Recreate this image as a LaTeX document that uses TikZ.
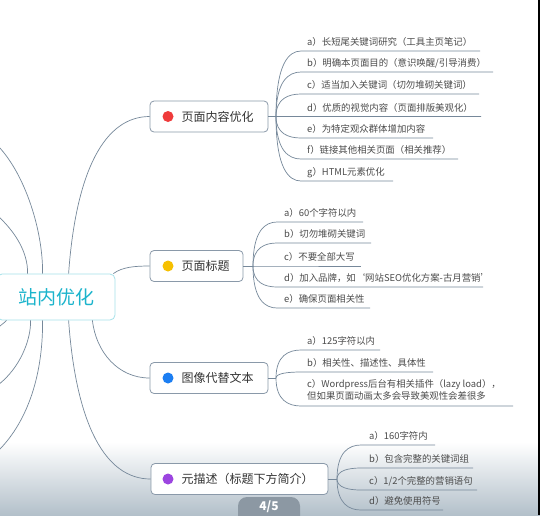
\documentclass[tikz,border=0pt]{standalone}
\usepackage{fontspec}
\setmainfont{Noto Sans CJK SC}
\usetikzlibrary{calc}
\definecolor{lnc}{HTML}{76889A}
\definecolor{boxc}{HTML}{8A99A9}
\definecolor{txt}{HTML}{333333}
\definecolor{ctxt}{HTML}{4C4C4C}
\definecolor{cyanT}{HTML}{1CB4CC}
\definecolor{cyanB}{HTML}{A6E2EA}
\definecolor{bgc}{HTML}{B3C0CA}
\definecolor{pillc}{HTML}{8C98A3}
\definecolor{dred}{HTML}{EF3B3B}
\definecolor{dyel}{HTML}{F6C000}
\definecolor{dblu}{HTML}{1C7EF2}
\definecolor{dpur}{HTML}{9C45E0}
\newcommand\kidline[3]{%
  \draw[conn] (#1) .. controls ($(#1)!0.8!(#1|-#2)$) and ($(#1|-#2)!0.5!(#2)$) .. (#2) -- (#3);}
\begin{document}
\begin{tikzpicture}[x=1pt,y=-1pt,
  conn/.style={draw=lnc, line width=0.7pt},
  l1/.style={draw=boxc, line width=0.8pt, fill=white, rounded corners=4pt, minimum height=31pt, inner sep=0pt},
  dot/.style={circle, inner sep=0pt, minimum size=11pt},
  l1text/.style={anchor=west, text=txt, font=\fontsize{12}{14}\selectfont, inner sep=0pt},
  ch/.style={anchor=base west, text=ctxt, font=\fontsize{9.4}{12}\selectfont, inner sep=0pt},
]
\useasboundingbox (0,0) rectangle (540,515);
\clip (0,0) rectangle (540,515);
\fill[white] (0,0) rectangle (540,515);
\shade[top color=white, bottom color=bgc] (0,442) rectangle (540,515);
\fill[black] (538.3,0) rectangle (541,515);

% central node
\node[draw=cyanB, line width=0.8pt, fill=white, rounded corners=5pt, minimum width=118pt, minimum height=46pt, inner sep=0pt, text=cyanT, font=\fontsize{19}{22}\selectfont] (c0) at (56,297) {站内优化};

% level-1 nodes
\node[l1, minimum width=118pt] (n1) at (209,116.5) {};
\node[l1, minimum width=93pt] (n2) at (196.5,266) {};
\node[l1, minimum width=118pt] (n3) at (209,378) {};
\node[l1, minimum width=177pt] (n4) at (239.5,479) {};
\node[dot, fill=dred] (d1) at (168,116.5) {};
\node[dot, fill=dyel] (d2) at (168,266) {};
\node[dot, fill=dblu] (d3) at (168,378) {};
\node[dot, fill=dpur] (d4) at (168,479) {};
\node[l1text] (t1) at (181.5,116.5) {页面内容优化};
\node[l1text] (t2) at (181.5,266) {页面标题};
\node[l1text] (t3) at (181.5,378) {图像代替文本};
\node[l1text] (t4) at (181.5,479) {元描述（标题下方简介）};

% connectors from the centre
\draw[conn] ($(c0.north west)+(72,0)$) .. controls (76,170) and (105,116.5) .. (n1.west);
\draw[conn] ($(c0.north east)+(-2,0)$) .. controls (122,267) and (135,266) .. (n2.west);
\draw[conn] ($(c0.south east)+(-23,0)$) .. controls (96,352) and (118,378) .. (n3.west);
\draw[conn] ($(c0.south west)+(72,0)$) .. controls (76,424) and (105,479) .. (n4.west);

% branches leaving the frame on the left
\coordinate (L1) at (-1,147);
\coordinate (L2) at (-1,217);
\coordinate (B1) at (-2,385);
\coordinate (B2) at (-3,452);
\coordinate (B3) at (-5,330);
\draw[conn] (L1) .. controls (25,175) and (43,230) .. ($(c0.north west)+(46,0)$);
\draw[conn] (L2) .. controls (15,232) and (28,252) .. ($(c0.north west)+(31,0)$);
\draw[conn] ($(c0.south west)+(34,0)$) .. controls (31,340) and (20,368) .. (B1);
\draw[conn] ($(c0.south west)+(46,0)$) .. controls (43,380) and (25,425) .. (B2);
\draw[conn] ($(c0.south west)+(10,0)$) .. controls (5,322) .. (B3);

% branch points
\coordinate (b1) at (276,116.5);
\coordinate (b2) at (253,266);
\coordinate (b3) at (276,378);
\coordinate (b4) at (337,479);
\draw[conn] (n1.east) -- (b1);
\draw[conn] (n2.east) -- (b2);
\draw[conn] (n3.east) -- (b3);
\draw[conn] (n4.east) -- (b4);

% group 1
\foreach \n/\y/\e/\t in {
  a/51/480/{a）长短尾关键词研究（工具主页笔记）},
  b/72/493/{b）明确本页面目的（意识唤醒/引导消费）},
  c/94/479/{c）适当加入关键词（切勿堆砌关键词）},
  d/116.5/481/{d）优质的视觉内容（页面排版美观化）},
  e/138/433/{e）为特定观众群体增加内容},
  f/159/458/{f）链接其他相关页面（相关推荐）},
  g/181/393/{g）HTML元素优化}} {
  \coordinate (p1\n) at (301,\y);
  \coordinate (q1\n) at (\e,\y);
  \node[ch] (k1\n) at (307,{\y-5.5}) {\t};
  \kidline{b1}{p1\n}{q1\n}
}

% group 2
\foreach \n/\y/\e/\t in {
  a/222/363/{a）60个字符以内},
  b/243/371/{b）切勿堆砌关键词},
  c/266/361/{c）不要全部大写},
  d/287/483/{d）加入品牌，如‘网站SEO优化方案-古月营销’},
  e/308/370/{e）确保页面相关性}} {
  \coordinate (p2\n) at (277,\y);
  \coordinate (q2\n) at (\e,\y);
  \node[ch] (k2\n) at (284,{\y-5.5}) {\t};
  \kidline{b2}{p2\n}{q2\n}
}

% group 3
\foreach \n/\y/\e/\t in {
  a/350/380/{a）125字符以内},
  b/372/433/{b）相关性、描述性、具体性}} {
  \coordinate (p3\n) at (301,\y);
  \coordinate (q3\n) at (\e,\y);
  \node[ch] (k3\n) at (307,{\y-5.5}) {\t};
  \kidline{b3}{p3\n}{q3\n}
}
\coordinate (p3c) at (301,406);
\coordinate (q3c) at (513,406);
\node[ch] (k3c) at (307,387.5) {c）Wordpress后台有相关插件（lazy load），};
\node[ch] (k3cc) at (307,399.5) {但如果页面动画太多会导致美观性会差很多};
\kidline{b3}{p3c}{q3c}

% group 4
\foreach \n/\y/\e/\t in {
  a/445/435/{a）160字符内},
  b/468/473/{b）包含完整的关键词组},
  c/490/477/{c）1/2个完整的营销语句},
  d/510/443/{d）避免使用符号}} {
  \coordinate (p4\n) at (361,\y);
  \coordinate (q4\n) at (\e,\y);
  \node[ch] (k4\n) at (369,{\y-5.5}) {\t};
  \kidline{b4}{p4\n}{q4\n}
}

% page indicator
\fill[pillc, rounded corners=9pt] (238,497) rectangle (300,532);
\node[text=white, font=\bfseries\fontsize{12}{14}\selectfont] (pg) at (269,506.5) {4/5};
\end{tikzpicture}
\end{document}
